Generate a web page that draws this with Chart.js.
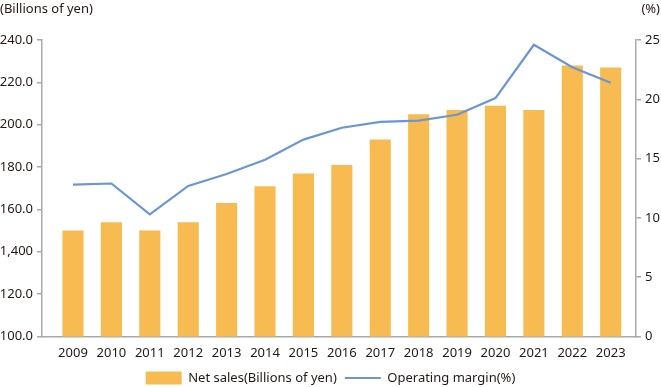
<!DOCTYPE html>
<html>
<head>
<meta charset="utf-8">
<script src="https://cdn.jsdelivr.net/npm/chart.js"></script>
<style>
html, body { margin: 0; padding: 0; background: #fff; }
</style>
</head>
<body>
<canvas id="myChart" width="661" height="387"></canvas>
<script>
// data
var years = ['2009', '2010', '2011', '2012', '2013', '2014', '2015', '2016', '2017', '2018', '2019', '2020', '2021', '2022', '2023'];
var netSales = [150, 154, 150, 154, 163, 171, 177, 181, 193, 205, 207, 209, 207, 228, 227];
var opMargin = [12.8, 12.9, 10.3, 12.7, 13.7, 14.9, 16.6, 17.6, 18.1, 18.2, 18.7, 20.1, 24.6, 22.7, 21.4];
var salesTicks = [100, 120, 140, 160, 180, 200, 220, 240];
var salesTickLabels = ['100.0', '120.0', '1,400', '160.0', '180.0', '200.0', '220.0', '240.0'];
var marginTicks = [0, 5, 10, 15, 20, 25];

var fontFamily = '"Noto Sans", sans-serif';
var textColor = '#231815';
var axisColor = '#a9a9a9';

// unit captions above the two y axes
var titlesPlugin = {
    id: 'axisTitles',
    afterDraw: function (chart) {
        var ctx = chart.ctx;
        ctx.save();
        ctx.font = '13px ' + fontFamily;
        ctx.fillStyle = textColor;
        ctx.textBaseline = 'middle';
        ctx.textAlign = 'left';
        ctx.fillText('(Billions of yen)', 0, 9);
        ctx.textAlign = 'right';
        ctx.fillText('(%)', 660, 9);
        ctx.restore();
    }
};

var element = document.getElementById('myChart').getContext('2d');
var chartData = {
    datasets: [{
        type: 'bar',
        label: 'Net sales(Billions of yen)',
        data: netSales.map(function (v, i) { return { x: i, y: v }; }),
        backgroundColor: '#f8bb52',
        borderWidth: 0,
        barPercentage: 0.55,
        categoryPercentage: 1,
        pointStyle: 'rect',
        yAxisID: 'y',
        order: 1
    }, {
        type: 'line',
        label: 'Operating margin(%)',
        data: opMargin.map(function (v, i) { return { x: i, y: v }; }),
        borderColor: '#6a96d6',
        backgroundColor: '#6a96d6',
        borderWidth: 2.2,
        pointRadius: 0,
        pointStyle: 'line',
        tension: 0,
        yAxisID: 'y1',
        order: 0
    }]
};

var chartOptions = {
    responsive: false,
    animation: false,
    layout: { padding: { top: 40, left: 0, right: 0, bottom: -7.5 } },
    plugins: {
        tooltip: { enabled: false },
        legend: {
            position: 'bottom',
            labels: {
                usePointStyle: true,
                pointStyleWidth: 36,
                boxHeight: 13,
                padding: 8,
                color: textColor,
                font: { family: fontFamily, size: 13 },
                sort: function (a, b) { return a.datasetIndex - b.datasetIndex; }
            }
        }
    },
    scales: {
        x: {
            type: 'linear',
            offset: false,
            min: -0.807,
            max: 14.659,
            afterBuildTicks: function (s) {
                s.ticks = years.map(function (y, i) { return { value: i }; });
            },
            afterFit: function (s) { s.height = 27; },
            ticks: {
                autoSkip: false,
                maxRotation: 0,
                padding: 8.5,
                color: textColor,
                font: { family: fontFamily, size: 13 },
                callback: function (v) { return years[v]; }
            },
            grid: { display: false, drawTicks: false, tickLength: 0 },
            border: { display: true, color: axisColor, width: 1.5 }
        },
        y: {
            position: 'left',
            min: 100,
            max: 240,
            afterBuildTicks: function (s) {
                s.ticks = salesTicks.map(function (v) { return { value: v }; });
            },
            afterFit: function (s) { s.width = 42; },
            ticks: {
                padding: 4,
                color: textColor,
                font: { family: fontFamily, size: 13 },
                callback: function (v) { return salesTickLabels[salesTicks.indexOf(v)]; }
            },
            grid: { drawOnChartArea: false, drawTicks: true, tickLength: 5, color: axisColor, lineWidth: 1.5 },
            border: { display: true, color: axisColor, width: 1.5 }
        },
        y1: {
            position: 'right',
            min: 0,
            max: 25,
            afterBuildTicks: function (s) {
                s.ticks = marginTicks.map(function (v) { return { value: v }; });
            },
            afterFit: function (s) { s.width = 25; },
            ticks: {
                padding: 4,
                color: textColor,
                font: { family: fontFamily, size: 13 }
            },
            grid: { drawOnChartArea: false, drawTicks: true, tickLength: 5, color: axisColor, lineWidth: 1.5 },
            border: { display: true, color: axisColor, width: 1.5 }
        }
    }
};

var chart = new Chart(element, { type: 'bar', data: chartData, options: chartOptions, plugins: [titlesPlugin] });
</script>
</body>
</html>
